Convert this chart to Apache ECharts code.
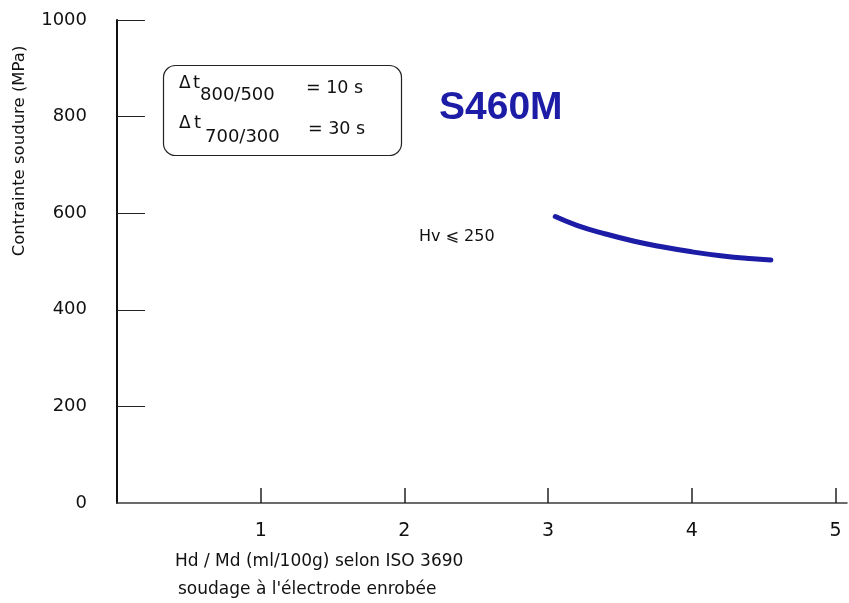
<!DOCTYPE html>
<html>
<head>
<meta charset="utf-8">
<script src="https://cdn.jsdelivr.net/npm/echarts@6/dist/echarts.min.js"></script>
<style>
  html, body { margin: 0; padding: 0; background: #fff; }
  #chart { width: 849px; height: 603px; }
</style>
</head>
<body>
<div id="chart"></div>
<script>
// Hydrogen content (ml/100g) vs admissible weld stress (MPa), S460M
const hydrogen = [3.05, 3.2, 3.4, 3.6, 3.8, 4.0, 4.2, 4.4, 4.55];
const stress = [593, 575, 557, 542, 530, 520, 512, 506, 503];
const xTicks = [1, 2, 3, 4, 5];
const yTicks = [0, 200, 400, 600, 800, 1000];

const FONT = '"DejaVu Sans", "Liberation Sans", Arial, sans-serif';
const FONT_B = '"Liberation Sans", Arial, Helvetica, sans-serif';
const BLUE = '#1c1ca6';
const INK = '#111';

const chart = echarts.init(document.getElementById('chart'));
chart.setOption({
  backgroundColor: '#ffffff',
  animation: false,
  grid: { left: 117, right: 2, top: 20, bottom: 100, containLabel: false },
  xAxis: {
    type: 'value',
    min: 0,
    max: 5.08,
    splitLine: { show: false },
    axisLine: { show: true, onZero: false, lineStyle: { color: '#3a3a3a', width: 1.5 } },
    axisTick: {
      show: true, inside: true, length: 15, customValues: xTicks,
      lineStyle: { color: '#222', width: 1.5 }
    },
    axisLabel: {
      show: true, customValues: xTicks, margin: 19,
      color: INK, fontSize: 19, fontFamily: FONT
    }
  },
  yAxis: {
    type: 'value',
    min: 0,
    max: 1000,
    splitLine: { show: false },
    axisLine: { show: true, lineStyle: { color: INK, width: 2 } },
    axisTick: {
      show: true, inside: true, length: 28, customValues: yTicks.slice(1),
      lineStyle: { color: '#222', width: 1 }
    },
    axisLabel: {
      show: true, customValues: yTicks, margin: 30,
      color: INK, fontSize: 18, fontFamily: FONT,
      formatter: v => String(v)
    }
  },
  series: [{
    type: 'line',
    data: hydrogen.map((h, i) => [h, stress[i]]),
    smooth: true,
    showSymbol: false,
    lineStyle: { color: BLUE, width: 5, cap: 'round' }
  }],
  graphic: [
    {
      type: 'text', x: 20, y: 151, rotation: Math.PI / 2,
      style: {
        text: 'Contrainte soudure (MPa)', fill: INK,
        font: '16.5px ' + FONT, align: 'center', verticalAlign: 'middle'
      }
    },
    {
      type: 'rect', shape: { x: 163.5, y: 65.5, width: 238, height: 90, r: 12 },
      style: { fill: 'none', stroke: '#222', lineWidth: 1.2 }
    },
    { type: 'text', x: 179, y: 84, style: { text: '\u0394', fill: INK, font: '17px ' + FONT, verticalAlign: 'middle' } },
    { type: 'text', x: 193, y: 83, style: { text: 't', fill: INK, font: '18px ' + FONT, verticalAlign: 'middle' } },
    { type: 'text', x: 200, y: 95, style: { text: '800/500', fill: INK, font: '18px ' + FONT, verticalAlign: 'middle' } },
    { type: 'text', x: 306, y: 88.5, style: { text: '= 10 s', fill: INK, font: '17.5px ' + FONT, verticalAlign: 'middle' } },
    { type: 'text', x: 179, y: 124, style: { text: '\u0394', fill: INK, font: '17px ' + FONT, verticalAlign: 'middle' } },
    { type: 'text', x: 194, y: 123, style: { text: 't', fill: INK, font: '18px ' + FONT, verticalAlign: 'middle' } },
    { type: 'text', x: 205, y: 137, style: { text: '700/300', fill: INK, font: '18px ' + FONT, verticalAlign: 'middle' } },
    { type: 'text', x: 308, y: 129.5, style: { text: '= 30 s', fill: INK, font: '17.5px ' + FONT, verticalAlign: 'middle' } },
    { type: 'text', x: 439, y: 108, style: { text: 'S460M', fill: BLUE, font: 'bold 39px ' + FONT_B, verticalAlign: 'middle' } },
    { type: 'text', x: 419, y: 237, style: { text: 'Hv \u2A7D 250', fill: INK, font: '16px ' + FONT, verticalAlign: 'middle' } },
    { type: 'text', x: 175, y: 562, style: { text: 'Hd / Md (ml/100g) selon ISO 3690', fill: INK, font: '17px ' + FONT, verticalAlign: 'middle' } },
    { type: 'text', x: 178, y: 590, style: { text: "soudage \u00E0 l'\u00E9lectrode enrob\u00E9e", fill: INK, font: '17px ' + FONT, verticalAlign: 'middle' } }
  ]
});
</script>
</body>
</html>
